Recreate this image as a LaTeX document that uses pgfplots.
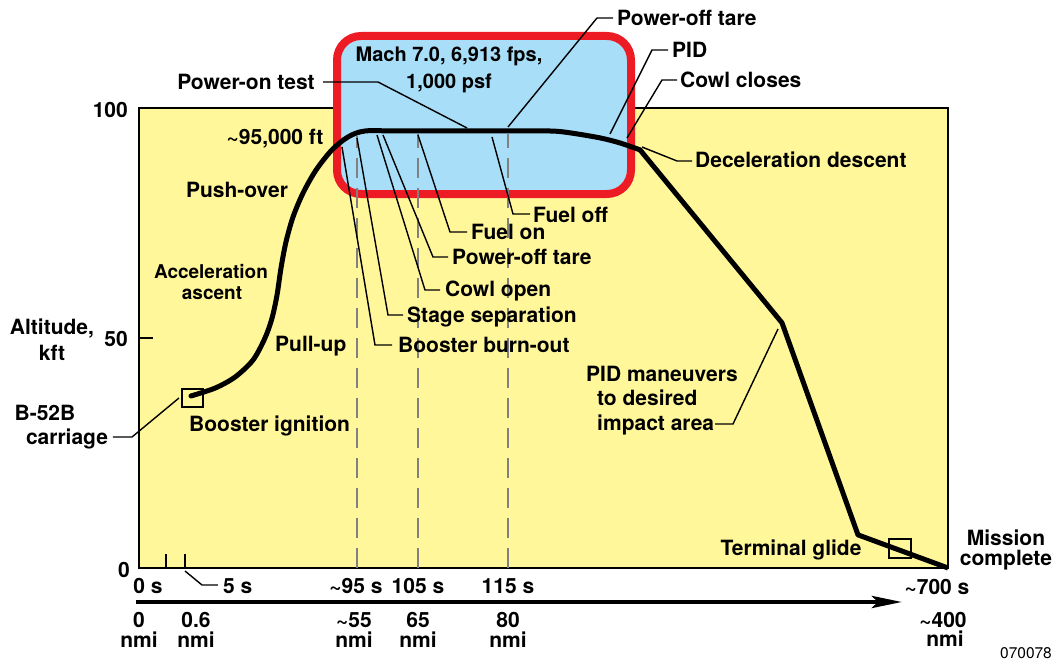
\documentclass[border=0pt]{standalone}
\usepackage{fontspec}
\setmainfont{TeX Gyre Heros}
\usepackage{pgfplots}
\pgfplotsset{compat=1.18}
\usetikzlibrary{arrows.meta}
\definecolor{cyellow}{RGB}{255,247,153}
\definecolor{cblue}{RGB}{168,222,248}
\definecolor{cred}{RGB}{237,28,36}
\definecolor{cgrey}{RGB}{128,128,128}
% pixel position -> axis coordinates (x in px, altitude in kft)
\newcommand{\pp}[2]{(axis cs:#1,{(568-#2)/4.6})}
\begin{document}
\begin{tikzpicture}[
  lbl/.style={font=\fontsize{21}{24}\selectfont\bfseries, inner sep=0pt, text height=15pt, text depth=0pt},
  lbls/.style={font=\fontsize{19}{22}\selectfont\bfseries, inner sep=0pt, text height=13.6pt, text depth=0pt},
  lblm/.style={font=\fontsize{20}{23}\selectfont\bfseries, inner sep=0pt, text height=14.4pt, text depth=0pt},
  lead/.style={line width=1.4pt, black},
]
\begin{axis}[
  scale only axis, width=809pt, height=460pt,
  xmin=139, xmax=948, ymin=0, ymax=100,
  axis background/.style={fill=cyellow},
  axis line style={line width=2pt},
  xtick={166,185,357,418,508}, xticklabels={},
  ytick={50}, yticklabels={},
  xticklabel style={opacity=0}, yticklabel style={opacity=0},
  tick pos=left, tick align=inside, major tick length=14pt,
  tick style={black, line width=1.5pt},
  clip=false,
]
% blue test window
\draw[line width=8pt, draw=cred, fill=cblue, rounded corners=24pt] \pp{337}{36} rectangle \pp{631}{194};
% dashed event lines
\draw[cgrey, line width=1.5pt, dash pattern=on 20pt off 10pt] \pp{357}{568} -- \pp{357}{136};
\draw[cgrey, line width=1.5pt, dash pattern=on 20pt off 10pt] \pp{418}{568} -- \pp{418}{134};
\draw[cgrey, line width=1.5pt, dash pattern=on 20pt off 10pt] \pp{508}{568} -- \pp{508}{134};
% leader lines
\draw[lead] \pp{113}{437} -- \pp{132}{437} -- \pp{179}{398};
\draw[lead] \pp{323}{82} -- \pp{378}{82} -- \pp{467}{128};
\draw[lead] \pp{613}{18} -- \pp{597}{18} -- \pp{508}{127};
\draw[lead] \pp{668}{50} -- \pp{652}{50} -- \pp{610}{134};
\draw[lead] \pp{677}{80} -- \pp{662}{80} -- \pp{627}{138};
\draw[lead] \pp{692}{161} -- \pp{677}{161} -- \pp{642}{147};
\draw[lead] \pp{530}{214} -- \pp{513}{214} -- \pp{492}{137};
\draw[lead] \pp{467}{232} -- \pp{450}{232} -- \pp{418}{135};
\draw[lead] \pp{448}{257} -- \pp{433}{257} -- \pp{383}{135};
\draw[lead] \pp{440}{290} -- \pp{425}{290} -- \pp{377}{135};
\draw[lead] \pp{403}{315} -- \pp{388}{315} -- \pp{357}{138};
\draw[lead] \pp{392}{345} -- \pp{375}{345} -- \pp{342}{147};
\draw[lead] \pp{715}{424} -- \pp{733}{424} -- \pp{778}{329};
\draw[lead] \pp{185}{571} -- \pp{202}{585} -- \pp{218}{585};
% trajectory
\addplot[black, mark=none, line width=5pt, smooth, line join=round, line cap=round] coordinates {
 (191,37.4) (215,39.1) (235,41.5) (253,45.2) (265,50.0) (272,54.3) (277,59.3)
 (281,65.2) (286,70.9) (293,76.3) (303,81.5) (316,86.5) (332,90.9) (348,93.7)
 (365,95.0) (400,95.0) (500,95.0) (550,95.0) (570,94.6) (600,93.5) (620,92.4) (640,90.9)};
\addplot[black, mark=none, line width=5pt, sharp plot, line join=round] coordinates {
 (640,90.9) (782,53.3) (858,7.2) (948,0)};
% squares
\draw[line width=1.5pt] \pp{182}{389} rectangle \pp{203}{407};
\draw[line width=1.5pt] \pp{889}{539} rectangle \pp{911}{558};
% x-distance arrow
\draw[line width=4.5pt, -{Stealth[length=30pt, width=12pt, inset=6pt]}] \pp{136}{602} -- \pp{902}{602};
% tick labels
\node[lbl, anchor=east] at \pp{128}{110} {100};
\node[lbl, anchor=east] at \pp{128}{339} {50};
\node[lbl, anchor=east] at \pp{130}{570} {0};
\node[lbl] at \pp{52}{327} {Altitude,};
\node[lbl] at \pp{52}{353} {kft};
\node[lbl] at \pp{45}{413} {B-52B};
\node[lbl] at \pp{67}{437} {carriage};
% time labels
\node[lbl] at \pp{148}{586} {0 s};
\node[lbl, anchor=west] at \pp{223}{586} {5 s};
\node[lbl] at \pp{356}{586} {\textasciitilde95 s};
\node[lbl] at \pp{418}{586} {105 s};
\node[lbl] at \pp{508}{586} {115 s};
\node[lbl] at \pp{937}{587} {\textasciitilde700 s};
% distance labels
\node[lbl] at \pp{139}{620} {0};
\node[lbl] at \pp{139}{640} {nmi};
\node[lbl] at \pp{196}{620} {0.6};
\node[lbl] at \pp{196}{640} {nmi};
\node[lbl] at \pp{354}{620} {\textasciitilde55};
\node[lbl] at \pp{354}{640} {nmi};
\node[lbl] at \pp{418}{620} {65};
\node[lbl] at \pp{418}{640} {nmi};
\node[lbl] at \pp{508}{620} {80};
\node[lbl] at \pp{508}{640} {nmi};
\node[lbl] at \pp{943}{620} {\textasciitilde400};
\node[lbl] at \pp{945}{639} {nmi};
\node[font=\fontsize{15.5}{18}\selectfont, inner sep=0pt, text height=11pt, text depth=0pt] at \pp{1026}{653} {070078};
% phase labels
\node[lbl, anchor=west] at \pp{189}{424} {Booster ignition};
\node[lbl, anchor=west] at \pp{275}{344} {Pull-up};
\node[lbls] at \pp{211}{272} {Acceleration};
\node[lbls] at \pp{212}{293} {ascent};
\node[lbl] at \pp{237}{190} {Push-over};
\node[lbl] at \pp{275}{137} {\textasciitilde95,000 ft};
\node[lbl] at \pp{246}{82} {Power-on test};
\node[lblm] at \pp{449}{54} {Mach 7.0, 6,913 fps,};
\node[lblm] at \pp{449}{81} {1,000 psf};
\node[lbl, anchor=west] at \pp{617}{18} {Power-off tare};
\node[lbl, anchor=west] at \pp{672}{50} {PID};
\node[lbl, anchor=west] at \pp{680}{80} {Cowl closes};
\node[lbl, anchor=west] at \pp{695}{160} {Deceleration descent};
\node[lbl, anchor=west] at \pp{533}{215} {Fuel off};
\node[lbl, anchor=west] at \pp{471}{232} {Fuel on};
\node[lbl, anchor=west] at \pp{452}{257} {Power-off tare};
\node[lbl, anchor=west] at \pp{445}{289} {Cowl open};
\node[lbl, anchor=west] at \pp{407}{315} {Stage separation};
\node[lbl, anchor=west] at \pp{398}{345} {Booster burn-out};
\node[lbl, anchor=west] at \pp{586}{374} {PID maneuvers};
\node[lbl, anchor=west] at \pp{597}{398} {to desired};
\node[lbl, anchor=west] at \pp{597}{423} {impact area};
\node[lbl] at \pp{791}{548} {Terminal glide};
\node[lbl] at \pp{1006}{538} {Mission};
\node[lbl] at \pp{1006}{558} {complete};
\coordinate (SW) at (axis cs:139,0);
\end{axis}
\pgfresetboundingbox
\path[use as bounding box] ([shift={(-139pt,-95pt)}]SW) rectangle ([shift={(916pt,568pt)}]SW);
\end{tikzpicture}
\end{document}
